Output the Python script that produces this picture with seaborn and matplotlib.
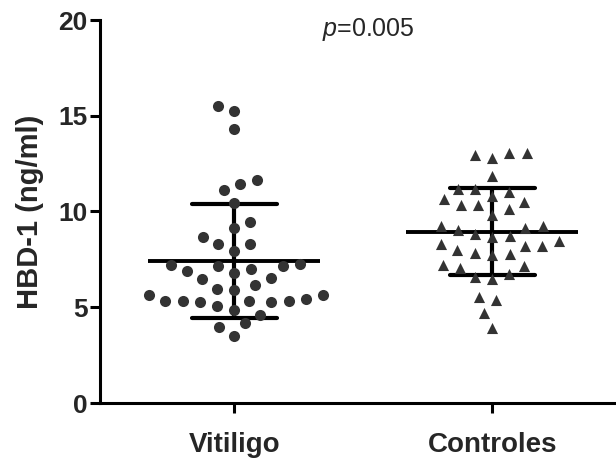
import numpy as np
import pandas as pd
import seaborn as sns
import matplotlib.pyplot as plt

# valori (HBD-1, ng/ml)
vitiligo = [15.53, 15.24, 14.32, 11.64, 11.46, 11.13, 10.42, 9.47, 9.13, 8.69,
            8.31, 8.31, 7.93, 7.27, 7.15, 7.00, 7.15, 7.20, 6.81, 6.87,
            6.53, 6.46, 6.15, 5.97, 5.92, 5.63, 5.63, 5.45, 5.33, 5.33,
            5.25, 5.28, 5.33, 5.33, 5.07, 4.87, 4.62, 4.19, 3.95, 3.50]
controles = [13.04, 12.81, 12.94, 13.07, 11.86, 11.20, 11.03, 11.20, 10.65, 10.82,
             10.34, 10.34, 10.51, 10.13, 9.82, 9.26, 9.13, 9.23, 9.06, 8.83,
             8.66, 8.74, 8.48, 8.22, 8.22, 8.31, 7.97, 7.79, 7.74, 7.84,
             7.15, 7.05, 7.22, 6.75, 6.46, 6.58, 5.54, 5.37, 4.71, 3.93]
gruppi = ["Vitiligo", "Controles"]
p_text = r"$\mathit{p}$=0.005"

df = pd.DataFrame({
    "grupo": ["Vitiligo"] * len(vitiligo) + ["Controles"] * len(controles),
    "valor": vitiligo + controles,
})

sns.set_style("ticks")
plt.rcParams["font.family"] = ["Liberation Sans", "DejaVu Sans"]
plt.rcParams["mathtext.fontset"] = "custom"
plt.rcParams["mathtext.it"] = "Liberation Sans:italic"
plt.rcParams["mathtext.rm"] = "Liberation Sans"

fig = plt.figure(figsize=(6.16, 4.65), dpi=100)
ax = fig.add_axes([100 / 616, 1 - 403 / 465, 1 - 100 / 616, (403 - 20) / 465])

# punti (swarm) con marker diversi per gruppo; disposti con dimensione piu' grande
# per avere spazi tra i punti come nell'originale
sns.swarmplot(data=df[df.grupo == "Vitiligo"], x="grupo", y="valor", order=gruppi,
              marker="o", color="#333333", size=12, linewidth=0, ax=ax)
sns.swarmplot(data=df[df.grupo == "Controles"], x="grupo", y="valor", order=gruppi,
              marker="^", color="#333333", size=12, linewidth=0, ax=ax)
swarm_cols = list(ax.collections)

ax.set_xlim(-0.52, 1.48)
ax.set_ylim(0, 20)
fig.canvas.draw()  # calcola le posizioni dello swarm
for c in swarm_cols:
    if "draw" in c.__dict__:
        del c.draw
    c.set_sizes([8.0 ** 2])

# media +/- SD
sns.pointplot(data=df, x="grupo", y="valor", order=gruppi, errorbar="sd",
              capsize=0.33, color="black", linestyle="none", marker="_",
              markersize=124, markeredgewidth=2.8,
              err_kws={"linewidth": 3.0}, ax=ax)

ax.set_xlim(-0.52, 1.48)
ax.set_ylim(0, 20)
ax.set_yticks([0, 5, 10, 15, 20])
ax.set_xlabel("")
ax.set_ylabel("HBD-1 (ng/ml)", fontsize=21, fontweight="bold", labelpad=10)
for lab in ax.get_xticklabels() + ax.get_yticklabels():
    lab.set_fontweight("bold")
ax.tick_params(axis="y", labelsize=19, width=2.2, length=7, color="black", pad=2)
ax.tick_params(axis="x", labelsize=20, width=2.2, length=7, color="black", pad=14)
for s in ["left", "bottom"]:
    ax.spines[s].set_linewidth(2.2)
    ax.spines[s].set_color("black")
sns.despine(ax=ax)

ax.text(0.52, 19.5, p_text, ha="center", va="center", fontsize=18)

fig.savefig("out.png", dpi=100)
